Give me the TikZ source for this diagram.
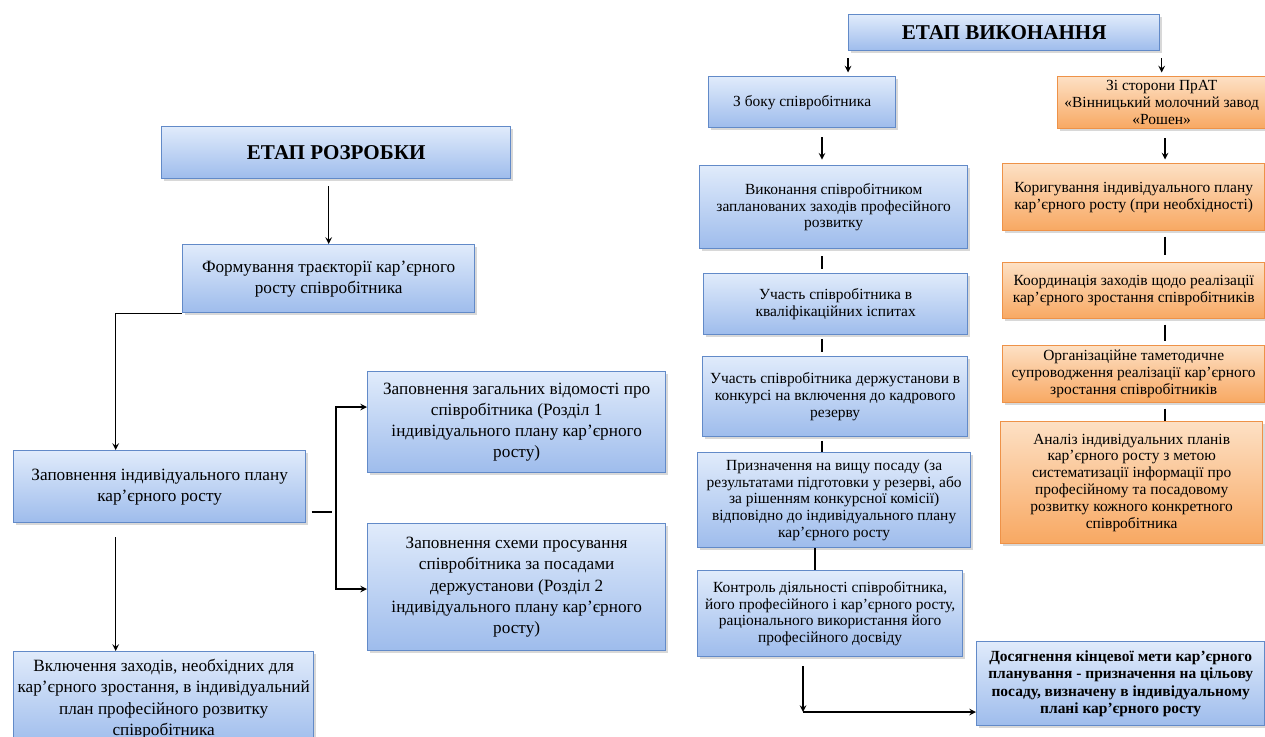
\documentclass[tikz,border=0pt]{standalone}
\usepackage{fontspec}
\setmainfont{Liberation Serif}
\usetikzlibrary{calc, shadows}

\definecolor{bluetop}{RGB}{224,235,251}
\definecolor{bluebot}{RGB}{158,188,236}
\definecolor{blueline}{RGB}{98,138,200}
\definecolor{ortop}{RGB}{253,224,196}
\definecolor{orbot}{RGB}{248,168,98}
\definecolor{orline}{RGB}{238,146,72}

\begin{document}
\begin{tikzpicture}[>=stealth, x=0.02cm, y=-0.02cm,
    box/.style={anchor=north west, align=center, inner sep=2pt, line width=0.8pt,
        drop shadow={shadow xshift=1.2pt, shadow yshift=-1.2pt, fill=black!30}},
    bluebox/.style={box, draw=blueline, top color=bluetop, bottom color=bluebot},
    orangebox/.style={box, draw=orline, top color=ortop, bottom color=orbot},
    titlefont/.style={font=\fontsize{12}{14}\selectfont\bfseries},
    leftfont/.style={font=\fontsize{9.8}{12}\selectfont},
    rightfont/.style={font=\fontsize{8.8}{9.6}\selectfont},
    boldfont/.style={font=\fontsize{8.8}{9.8}\selectfont\bfseries},
    link/.style={line width=0.7pt}]
    \useasboundingbox (0,0) rectangle (1265,737);
    \clip (0,0) rectangle (1265,737);

    % Етап розробки
    \node[bluebox, titlefont, minimum width=6.98cm, minimum height=1.04cm] (rozrobka) at (161,126) {ЕТАП РОЗРОБКИ};
    \node[bluebox, leftfont, minimum width=5.84cm, minimum height=1.36cm] (traektoriya) at (182,244)
        {Формування траєкторії кар'єрного\\ росту співробітника};
    \node[bluebox, leftfont, minimum width=5.84cm, minimum height=1.44cm] (plan) at (13,450)
        {Заповнення індивідуального плану\\ кар'єрного росту};
    \node[bluebox, leftfont, minimum width=5.96cm, minimum height=2.02cm] (vidomosti) at (367,371)
        {Заповнення загальних відомості про\\ співробітника (Розділ 1\\ індивідуального плану кар'єрного\\ росту)};
    \node[bluebox, leftfont, minimum width=5.96cm, minimum height=2.54cm] (skhema) at (367,523)
        {Заповнення схеми просування\\ співробітника за посадами\\ держустанови (Розділ 2\\ індивідуального плану кар'єрного\\ росту)};
    \node[bluebox, leftfont, inner xsep=1pt, minimum width=6cm, minimum height=1.9cm] (zakhody) at (13,651)
        {Включення заходів, необхідних для\\ кар'єрного зростання, в індивідуальний\\ план професійного розвитку\\ співробітника};

    % Зв'язки етапу розробки
    \draw[link, ->, shorten <=4pt] (rozrobka.south -| traektoriya.north) -- (traektoriya.north);
    \coordinate (lleft) at ($(plan.north west)!0.35!(plan.north east)$);
    \draw[link, ->] (traektoriya.south west) -| (lleft);
    \coordinate (fork) at (336,512);
    \draw[link] ([xshift=3pt]plan.east |- fork) -- ([xshift=-2pt]fork);
    \draw[link, ->] (fork) |- ([shift={(0,36)}]vidomosti.north west);
    \draw[link, ->] (fork) |- ([shift={(0,66)}]skhema.north west);
    \draw[link, ->, shorten <=8pt] (plan.south -| lleft) -- (zakhody.north -| lleft);

    % Етап виконання
    \node[bluebox, titlefont, minimum width=6.22cm, minimum height=0.72cm] (vykonannya) at (848,14) {ЕТАП ВИКОНАННЯ};
    \node[bluebox, rightfont, minimum width=3.74cm, minimum height=1.02cm] (spivrob) at (708,76)
        {З боку співробітника};
    \node[orangebox, rightfont, minimum width=4.16cm, minimum height=1.04cm] (storony) at (1057,76)
        {Зі сторони ПрАТ\\ «Вінницький молочний завод\\ «Рошен»};
    \node[bluebox, rightfont, minimum width=5.36cm, minimum height=1.66cm] (vykon) at (699,165)
        {Виконання співробітником\\ запланованих заходів професійного\\ розвитку};
    \node[orangebox, rightfont, minimum width=5.24cm, minimum height=1.34cm] (koryg) at (1002,163)
        {Коригування індивідуального плану\\ кар'єрного росту (при необхідності)};
    \node[bluebox, rightfont, minimum width=5.28cm, minimum height=1.22cm] (kval) at (703,273)
        {Участь співробітника в\\ кваліфікаційних іспитах};
    \node[orangebox, rightfont, minimum width=5.24cm, minimum height=1.12cm] (koord) at (1002,262)
        {Координація заходів щодо реалізації\\ кар'єрного зростання співробітників};
    \node[bluebox, rightfont, minimum width=5.3cm, minimum height=1.6cm] (derzh) at (702,356)
        {Участь співробітника держустанови в\\ конкурсі на включення до кадрового\\ резерву};
    \node[orangebox, rightfont, minimum width=5.24cm, minimum height=1.14cm] (org) at (1002,345)
        {Організаційне таметодичне\\ супроводження реалізації кар'єрного\\ зростання співробітників};
    \node[orangebox, rightfont, minimum width=5.24cm, minimum height=2.44cm] (analiz) at (1000,421)
        {Аналіз індивідуальних планів\\ кар'єрного росту з метою\\ систематизації інформації про\\ професійному та посадовому\\ розвитку кожного конкретного\\ співробітника};
    \node[bluebox, rightfont, minimum width=5.46cm, minimum height=1.9cm] (pryznach) at (697,452)
        {Призначення на вищу посаду (за\\ результатами підготовки у резерві, або\\ за рішенням конкурсної комісії)\\ відповідно до індивідуального плану\\ кар'єрного росту};
    \node[bluebox, rightfont, minimum width=5.3cm, minimum height=1.72cm] (kontrol) at (697,570)
        {Контроль діяльності співробітника,\\ його професійного і кар'єрного росту,\\ раціонального використання його\\ професійного досвіду};
    \node[bluebox, boldfont, minimum width=5.76cm, minimum height=1.68cm] (dosyagn) at (976,641)
        {Досягнення кінцевої мети кар'єрного\\ планування - призначення на цільову\\ посаду, визначену в індивідуальному\\ плані кар'єрного росту};

    % Зв'язки етапу виконання
    \coordinate (lc) at (822,0);
    \coordinate (rc) at (1165,0);
    \draw[link, ->, shorten <=4pt, shorten >=2pt] (vykonannya.south west) -- (vykonannya.south west |- spivrob.north);
    \draw[link, ->, shorten <=4pt, shorten >=2pt] (vykonannya.south -| storony.north) -- (storony.north);
    \draw[link, ->, shorten <=5pt, shorten >=3pt] (spivrob.south -| lc) -- (vykon.north -| lc);
    \draw[link, ->, shorten <=5pt, shorten >=2pt] (storony.south -| rc) -- (koryg.north -| rc);
    \draw[link, shorten <=4pt, shorten >=2pt] (vykon.south -| lc) -- (kval.north -| lc);
    \draw[link, shorten <=2pt, shorten >=2pt] (kval.south -| lc) -- (derzh.north -| lc);
    \draw[link, shorten <=2pt] (derzh.south -| lc) -- (pryznach.north -| lc);
    \draw[link] (pryznach.south -| 815,0) -- (kontrol.north -| 815,0);
    \draw[link, shorten <=3pt, shorten >=4pt] (koryg.south -| rc) -- (koord.north -| rc);
    \draw[link, shorten <=3pt, shorten >=2pt] (koord.south -| rc) -- (org.north -| rc);
    \draw[link, shorten <=3pt] (org.south -| rc) -- (analiz.north -| rc);
    \coordinate (corner) at (803,712);
    \draw[link, ->, shorten <=5pt] (kontrol.south -| corner) -- (corner);
    \draw[link, ->] (corner) -- (corner -| dosyagn.west);
\end{tikzpicture}
\end{document}
